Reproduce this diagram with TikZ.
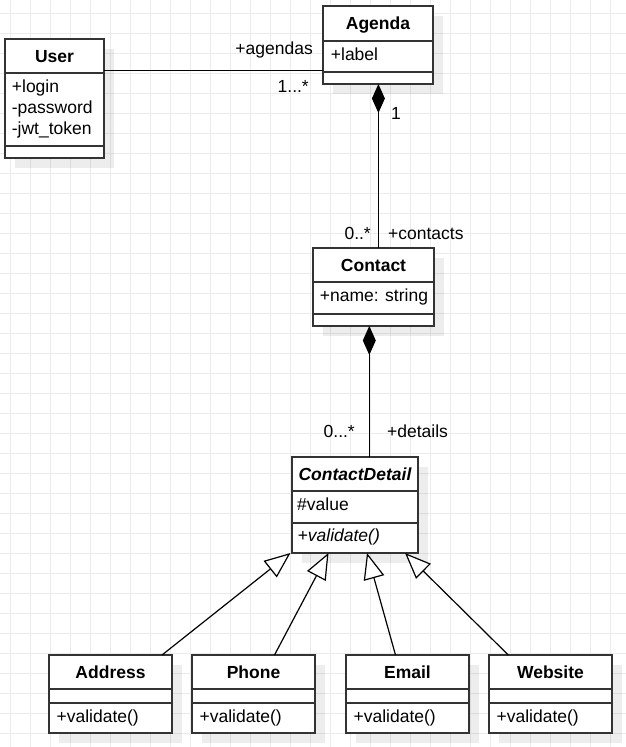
\documentclass[tikz,border=0pt]{standalone}
\usepackage{fontspec}
\setmainfont{Liberation Sans}
\usetikzlibrary{arrows.meta}

\definecolor{boxline}{HTML}{333333}
\definecolor{gridc}{HTML}{EBEBEB}

% one class box: name, x, y, width, header height, attribute height, operation height, title
\newcommand{\umlclass}[8]{%
  \fill[boxshadow] (#2+10,#3+10) rectangle ++(#4,#5+#6+#7);
  \node[classhead, minimum width=#4pt, minimum height=#5pt] (#1) at (#2,#3) {#8};
  \node[compart, minimum width=#4pt, minimum height=#6pt] (#1-attr) at (#1.south west) {};
  \node[compart, minimum width=#4pt, minimum height=#7pt] (#1-ops) at (#1-attr.south west) {};
}

\tikzset{
  txt/.style={font=\fontsize{17.5pt}{21pt}\selectfont, text=black},
  gridline/.style={draw=gridc, line width=1pt},
  boxshadow/.style={fill=black, fill opacity=0.07},
  classhead/.style={txt, font=\fontsize{17.5pt}{21pt}\selectfont\bfseries,
    draw=boxline, fill=white, line width=1.6pt, rectangle, anchor=north west,
    inner sep=0pt, outer sep=0pt, text height=12.5pt, text depth=0pt},
  compart/.style={draw=boxline, fill=white, line width=1.6pt, rectangle,
    anchor=north west, inner sep=0pt, outer sep=0pt},
  member/.style={txt, anchor=base west, inner sep=0pt},
  lblR/.style={txt, anchor=base east, inner sep=0pt},
  lblL/.style={txt, anchor=base west, inner sep=0pt},
  assoc/.style={draw=black, line width=1.2pt},
  compo/.style={assoc, {Diamond[length=29pt, width=13pt, fill=black]}-},
  inherit/.style={assoc, -{Triangle[length=26pt, width=21pt, fill=white]}},
}

\begin{document}
\begin{tikzpicture}[x=1pt, y=-1pt]
  \useasboundingbox (0,0) rectangle (626,747);
  \fill[white] (0,0) rectangle (626,747);

  % background grid
  \foreach \gx in {10.3,30.3,...,610.3} \draw[gridline] (\gx,0) -- (\gx,747);
  \foreach \gy in {13.3,33.3,...,733.3} \draw[gridline] (0,\gy) -- (626,\gy);

  % classes
  \umlclass{user}{5}{39}{99}{34}{73}{12}{User}
  \umlclass{agenda}{323}{6}{110}{35}{31}{12}{Agenda}
  \umlclass{contact}{313}{248}{121}{34}{32}{12}{Contact}
  \umlclass{cdetail}{292}{457}{126}{34}{32}{30}{\itshape ContactDetail}
  \umlclass{address}{49}{655}{123}{34}{14}{30}{Address}
  \umlclass{phone}{192}{655}{123}{34}{14}{30}{Phone}
  \umlclass{email}{346}{655}{123}{34}{14}{30}{Email}
  \umlclass{website}{489}{655}{123}{34}{14}{30}{Website}

  % members
  \node[member] (u1) at (11.7,92.8) {+login};
  \node[member] (u2) at (11.7,113.3) {-password};
  \node[member] (u3) at (11.7,134) {-jwt\_token};
  \node[member] (ag1) at (330.7,60) {+label};
  \node[member] (ct1) at (319.7,301) {+name: string};
  \node[member] (cd1) at (297,510) {\#value};
  \node[member] (cd2) at (297.5,541.5) {\itshape +validate()};
  \node[member] (ad1) at (56.4,722.7) {+validate()};
  \node[member] (ph1) at (199.4,722.7) {+validate()};
  \node[member] (em1) at (353.4,722.7) {+validate()};
  \node[member] (ws1) at (496.4,722.7) {+validate()};

  % User -- Agenda
  \coordinate (ua) at ([yshift=-31.7pt]user.north east);
  \draw[assoc] (ua) -- (ua -| agenda.west);
  \node[lblR] (l-agendas) at (313,54.5) {+agendas};
  \node[lblR] (l-agm) at (309,92.7) {1...*};

  % Agenda <>-- Contact
  \coordinate (ac) at ([xshift=0.4pt]agenda-ops.south);
  \draw[compo] (ac) -- (ac |- contact.north);
  \node[lblL] (l-one) at (391,119) {1};
  \node[lblR] (l-ctm) at (371,239) {0..*};
  \node[lblL] (l-contacts) at (388,239.3) {+contacts};

  % Contact <>-- ContactDetail
  \coordinate (cc) at ([xshift=-4.2pt]contact-ops.south);
  \draw[compo] (cc) -- (cc |- cdetail.north);
  \node[lblR] (l-cdm) at (355,437) {0...*};
  \node[lblL] (l-details) at (387,437) {+details};

  % generalisations
  \coordinate (t1) at ([xshift=-1.5pt]cdetail-ops.south west);
  \coordinate (t2) at ([xshift=36.5pt]cdetail-ops.south west);
  \coordinate (t3) at ([xshift=75pt]cdetail-ops.south west);
  \coordinate (t4) at ([xshift=113pt]cdetail-ops.south west);
  \draw[inherit] ([xshift=51.5pt]address.north) -- (t1);
  \draw[inherit] ([xshift=21pt]phone.north) -- (t2);
  \draw[inherit] ([xshift=-12pt]email.north) -- (t3);
  \draw[inherit] ([xshift=-42.2pt]website.north) -- (t4);
\end{tikzpicture}
\end{document}
